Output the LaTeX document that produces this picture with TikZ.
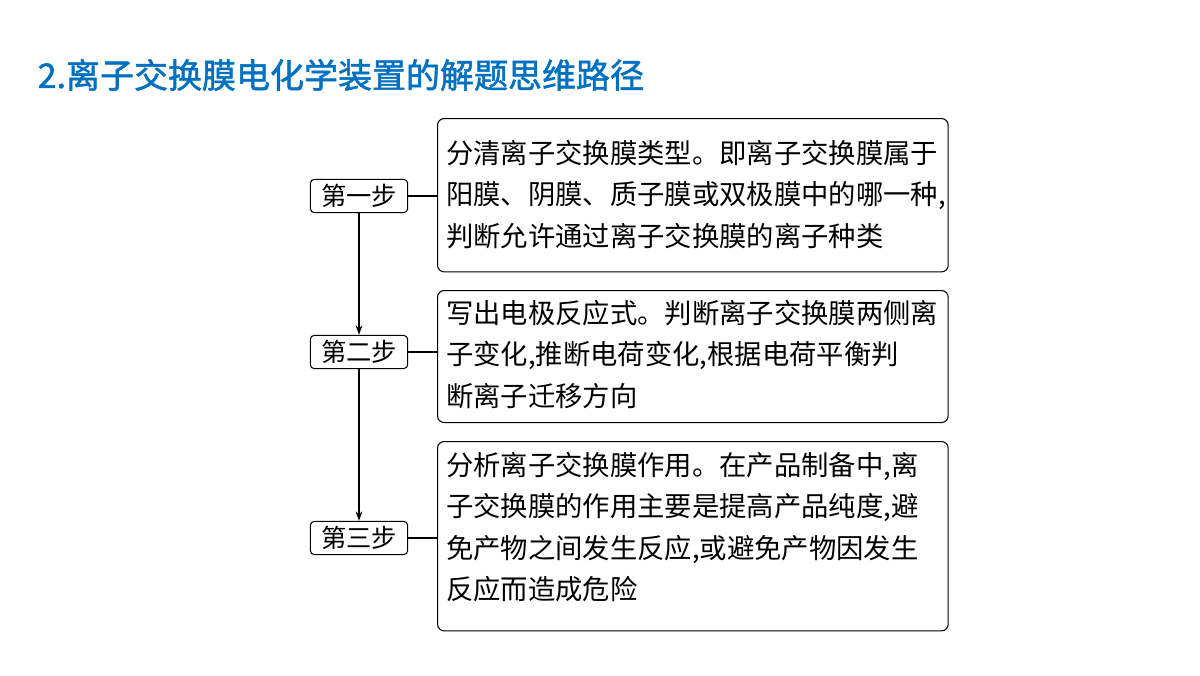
\documentclass[tikz,border=0pt]{standalone}
\usepackage{fontspec}
\setmainfont{Noto Sans CJK SC}
\newfontfamily\cjkb[FakeBold=1.5]{Noto Sans CJK SC}
\usetikzlibrary{arrows.meta}
\definecolor{titleblue}{RGB}{0,112,192}
\begin{document}
\begin{tikzpicture}[x=0.75pt,y=-0.75pt,
  stepbox/.style={draw,thick,rounded corners=3pt,minimum width=73pt,minimum height=25pt,inner sep=0pt,font=\fontsize{19pt}{22pt}\selectfont},
  desc/.style={draw,thick,rounded corners=5pt,anchor=north west,inner sep=0pt,minimum width=383pt},
  txt/.style={anchor=north west,align=left,font=\fontsize{20.5pt}{31pt}\selectfont,inner sep=0pt},
  conn/.style={thick},
  arr/.style={thick,-{Stealth[length=7pt,width=5pt]}}]
\useasboundingbox (0,0) rectangle (1200,675);
\node[anchor=west,text=titleblue,font=\cjkb\fontsize{25.5pt}{28pt}\selectfont] (title) at (33,75) {2.离子交换膜电化学装置的解题思维路径};
\node[desc,minimum height=115pt] (d1) at (437,118) {};
\node[txt] (t1) at (446,140) {分清离子交换膜类型。即离子交换膜属于\\阳膜、阴膜、质子膜或双极膜中的哪一种,\\判断允许通过离子交换膜的离子种类};
\node[desc,minimum height=99pt] (d2) at (437,290) {};
\node[txt] (t2) at (446,300) {写出电极反应式。判断离子交换膜两侧离\\子变化,推断电荷变化,根据电荷平衡判\\断离子迁移方向};
\node[desc,minimum height=142pt] (d3) at (437,441) {};
\node[txt] (t3) at (446,452) {分析离子交换膜作用。在产品制备中,离\\子交换膜的作用主要是提高产品纯度,避\\免产物之间发生反应,或避免产物因发生\\反应而造成危险};
\node[stepbox] (s1) at (359,196) {第一步};
\node[stepbox] (s2) at (359,352) {第二步};
\node[stepbox] (s3) at (359,538) {第三步};
\draw[conn] (s1.east) -- (s1.east -| d1.west);
\draw[conn] (s2.east) -- (s2.east -| d2.west);
\draw[conn] (s3.east) -- (s3.east -| d3.west);
\draw[arr] (s1.south) -- (s2.north);
\draw[arr] (s2.south) -- (s3.north);
\end{tikzpicture}
\end{document}
